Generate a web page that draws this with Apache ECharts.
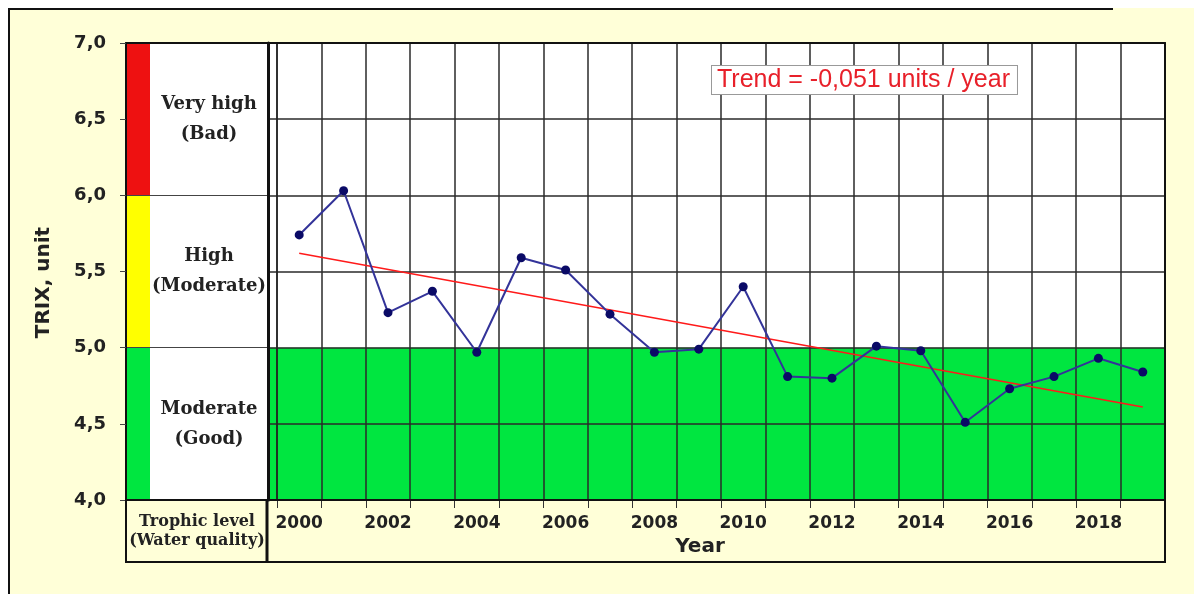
<!DOCTYPE html>
<html><head><meta charset="utf-8">
<script src="https://cdn.jsdelivr.net/npm/echarts@6/dist/echarts.min.js"></script>
<style>html,body{margin:0;padding:0;background:#fff}#c{width:1194px;height:594px}</style>
</head><body><div id="c"></div>
<script>
// ---- data ----
const years = ['2000','2001','2002','2003','2004','2005','2006','2007','2008','2009',
               '2010','2011','2012','2013','2014','2015','2016','2017','2018','2019'];
const trix = [5.74, 6.03, 5.23, 5.37, 4.97, 5.59, 5.51, 5.22, 4.97, 4.99,
              5.40, 4.81, 4.80, 5.01, 4.98, 4.51, 4.73, 4.81, 4.93, 4.84];
const trendYears = ['2000', '2019'];
const trendValues = [5.62, 4.61];
const zoneBounds = [[4, 5], [5, 6], [6, 7]];
const zoneNames = ['Moderate\n(Good)', 'High\n(Moderate)', 'Very high\n(Bad)'];
const goodBand = [[4, 5]];
const trendLabel = 'Trend = -0,051 units / year';
const yTitle = 'TRIX, unit';
const xTitle = 'Year';
const panelTitle = 'Trophic level\n(Water quality)';

// ---- styles ----
const zoneColors = ['#00e640', '#ffff00', '#ee1111'];
const GREEN = '#00e640';
const BG = '#ffffd8';
const GRID_LINE = { color: '#2a2a2a', width: 1.5 };
const fmt = v => v.toFixed(1).replace('.', ',');

const chart = echarts.init(document.getElementById('c'));

const bandSeries = (xi, yi) => ({
  type: 'custom', xAxisIndex: xi, yAxisIndex: yi, z: 2, silent: true,
  data: goodBand,
  renderItem: (params, api) => {
    const cs = params.coordSys;
    const yTop = api.coord([0, api.value(1)])[1];
    const yBot = api.coord([0, api.value(0)])[1];
    return { type: 'rect', shape: { x: cs.x, y: yTop, width: cs.width, height: yBot - yTop },
             style: { fill: GREEN } };
  }
});

const option = {
  backgroundColor: BG,
  animation: false,
  graphic: [
    { type: 'rect', z: 0, shape: { x: 0, y: 0, width: 1194, height: 8 }, style: { fill: '#fff' } },
    { type: 'rect', z: 0, shape: { x: 0, y: 0, width: 8, height: 594 }, style: { fill: '#fff' } },
    { type: 'line', z: 1, shape: { x1: 8, y1: 9, x2: 1113, y2: 9 }, style: { stroke: '#111', lineWidth: 2 } },
    { type: 'line', z: 1, shape: { x1: 9, y1: 8, x2: 9, y2: 594 }, style: { stroke: '#111', lineWidth: 2 } },
    { type: 'rect', z: 50, shape: { x: 126, y: 500, width: 1039, height: 62 },
      style: { fill: 'none', stroke: '#111', lineWidth: 2 } },
    { type: 'line', z: 50, shape: { x1: 267, y1: 500, x2: 267, y2: 562 }, style: { stroke: '#111', lineWidth: 3 } },
    { type: 'text', z: 50, x: 197, y: 531,
      style: { text: panelTitle, align: 'center', verticalAlign: 'middle', lineHeight: 19,
               font: 'bold 16px "DejaVu Serif"', fill: '#222' } },
    { type: 'text', z: 60, x: 712, y: 66,
      style: { text: trendLabel, font: '25px "Liberation Sans"', fill: '#e8202a',
               backgroundColor: '#fff', borderColor: '#999', borderWidth: 1, padding: [2, 7, 1, 5] } }
  ],
  grid: [
    { left: 126, top: 43, width: 142, height: 457, show: true, backgroundColor: '#fff', borderWidth: 0 },
    { left: 277, top: 43, width: 888, height: 457, show: true, backgroundColor: '#fff', borderWidth: 0 },
    { left: 268, top: 43, width: 9, height: 457, show: true, backgroundColor: '#fff', borderWidth: 0 }
  ],
  xAxis: [
    { gridIndex: 0, type: 'value', min: 0, max: 1, position: 'top', z: 3,
      axisLine: { show: true, lineStyle: { color: '#111', width: 2 } },
      axisTick: { show: false }, axisLabel: { show: false }, splitLine: { show: false } },
    { gridIndex: 1, type: 'category', data: years, boundaryGap: true, position: 'bottom', z: 3,
      name: xTitle, nameLocation: 'middle', nameGap: 36,
      nameTextStyle: { color: '#222', fontFamily: 'DejaVu Sans', fontWeight: 'bold', fontSize: 20, padding: [0, 42, 0, 0] },
      axisLine: { show: true, lineStyle: { color: '#111', width: 2 } },
      axisTick: { show: true, interval: 0, length: 8, lineStyle: { color: '#333' } },
      axisLabel: { interval: 1, margin: 15, color: '#222', fontFamily: 'DejaVu Sans', fontWeight: 'bold', fontSize: 17 },
      splitLine: { show: true, interval: 0, lineStyle: GRID_LINE } },
    { gridIndex: 1, type: 'category', data: years, position: 'top', z: 3,
      axisLine: { show: true, lineStyle: { color: '#111', width: 2 } },
      axisTick: { show: false }, axisLabel: { show: false }, splitLine: { show: false } },
    { gridIndex: 2, type: 'value', min: 0, max: 1, position: 'top', z: 3,
      axisLine: { show: true, lineStyle: { color: '#111', width: 2 } },
      axisTick: { show: false }, axisLabel: { show: false }, splitLine: { show: false } }
  ],
  yAxis: [
    { gridIndex: 0, type: 'value', min: 4, max: 7, interval: 0.5, position: 'left', z: 3,
      name: yTitle, nameLocation: 'middle', nameGap: 72, nameRotate: 90,
      nameTextStyle: { color: '#222', fontFamily: 'DejaVu Sans', fontWeight: 'bold', fontSize: 20, padding: [0, 22, 0, 0] },
      axisLine: { show: true, lineStyle: { color: '#111', width: 2 } },
      axisTick: { show: true, length: 6, lineStyle: { color: '#444' } },
      axisLabel: { formatter: fmt, margin: 20, color: '#222', fontFamily: 'DejaVu Sans', fontWeight: 'bold', fontSize: 18 },
      splitLine: { show: false } },
    { gridIndex: 0, type: 'value', min: 4, max: 7, interval: 1, position: 'right', z: 3,
      axisLine: { show: true, lineStyle: { color: '#111', width: 3 } },
      axisTick: { show: false }, axisLabel: { show: false },
      splitLine: { show: true, lineStyle: { color: '#444', width: 1.2 } } },
    { gridIndex: 1, type: 'value', min: 4, max: 7, interval: 0.5, position: 'left', z: 3,
      axisLine: { show: true, lineStyle: { color: '#222', width: 1.5 } },
      axisTick: { show: false }, axisLabel: { show: false },
      splitLine: { show: true, lineStyle: GRID_LINE } },
    { gridIndex: 1, type: 'value', min: 4, max: 7, interval: 0.5, position: 'right', z: 3,
      axisLine: { show: true, lineStyle: { color: '#111', width: 2 } },
      axisTick: { show: false }, axisLabel: { show: false }, splitLine: { show: false } },
    { gridIndex: 2, type: 'value', min: 4, max: 7, interval: 0.5, position: 'left', z: 3,
      axisLine: { show: false }, axisTick: { show: false }, axisLabel: { show: false },
      splitLine: { show: true, lineStyle: GRID_LINE } }
  ],
  series: [
    { type: 'custom', xAxisIndex: 0, yAxisIndex: 0, z: 2, silent: true,
      data: zoneBounds,
      renderItem: (params, api) => {
        const cs = params.coordSys;
        const yTop = api.coord([0, api.value(1)])[1];
        const yBot = api.coord([0, api.value(0)])[1];
        return { type: 'rect', shape: { x: cs.x, y: yTop, width: 24, height: yBot - yTop },
                 style: { fill: zoneColors[params.dataIndex] } };
      } },
    { type: 'custom', xAxisIndex: 0, yAxisIndex: 0, z: 4, silent: true,
      data: zoneBounds,
      renderItem: (params, api) => {
        const cs = params.coordSys;
        const yMid = api.coord([0, (api.value(0) + api.value(1)) / 2])[1];
        return { type: 'text', x: cs.x + 24 + (cs.width - 24) / 2, y: yMid,
                 style: { text: zoneNames[params.dataIndex], align: 'center', verticalAlign: 'middle',
                          lineHeight: 30, font: 'bold 18px "DejaVu Serif"', fill: '#222' } };
      } },
    bandSeries(1, 2),
    bandSeries(3, 4),
    { type: 'line', xAxisIndex: 1, yAxisIndex: 2, z: 4, silent: true,
      data: trendYears.map((y, i) => [y, trendValues[i]]),
      symbol: 'none', lineStyle: { color: '#ff1a1a', width: 1.5 } },
    { type: 'line', xAxisIndex: 1, yAxisIndex: 2, z: 5,
      data: trix, symbol: 'circle', symbolSize: 9,
      lineStyle: { color: '#333399', width: 2 },
      itemStyle: { color: '#0a0a66' } }
  ]
};
chart.setOption(option);
</script>
</body></html>
